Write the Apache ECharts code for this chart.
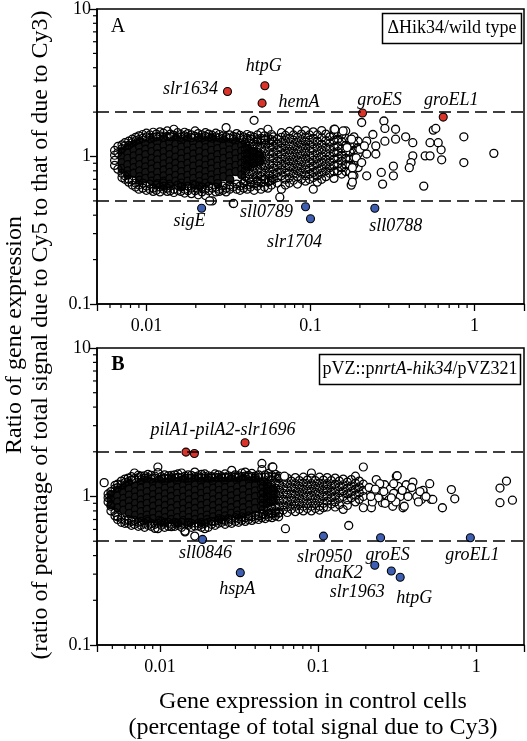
<!DOCTYPE html>
<html><head><meta charset="utf-8">
<script src="https://cdn.jsdelivr.net/npm/echarts@6/dist/echarts.min.js"></script>
<style>html,body{margin:0;padding:0;background:#fff}#c{width:527px;height:741px}</style>
</head><body><div id="c"></div>
<script>
// ---------------- data ----------------
const xTickVals = [0.01, 0.1, 1];
const xTickText = ['0.01', '0.1', '1'];
const yTickVals = [0.1, 1, 10];
const yTickText = ['0.1', '1', '10'];
const minorXA = [0.006,0.007,0.008,0.009,0.02,0.03,0.04,0.05,0.06,0.07,0.08,0.09,0.2,0.3,0.4,0.5,0.6,0.7,0.8,0.9];
const minorXB = [0.005,0.006,0.007,0.008,0.009,0.02,0.03,0.04,0.05,0.06,0.07,0.08,0.09,0.2,0.3,0.4,0.5,0.6,0.7,0.8,0.9];
const minorY = [0.2,0.3,0.4,0.5,0.6,0.7,0.8,0.9,2,3,4,5,6,7,8,9];
const thresholds = [2, 0.5];

// ===== Panel A =====
// dense core, [x, ratios...]
const coreA = [
[0.0071,[1.08,0.99,0.91,0.83]],
[0.0077,[1.15,1.06,0.97,0.88,0.80,0.75]],
[0.0084,[1.21,1.11,1.01,0.92,0.84,0.77]],
[0.0091,[1.26,1.16,1.06,0.97,0.88,0.80,0.73,0.69]],
[0.0099,[1.22,1.12,1.03,0.93,0.85,0.78,0.71]],
[0.0108,[1.29,1.17,1.08,0.97,0.89,0.82,0.74,0.68]],
[0.0117,[1.25,1.14,1.04,0.95,0.86,0.78,0.71,0.655]],
[0.0128,[1.31,1.19,1.08,0.98,0.89,0.81,0.74,0.68,0.63]],
[0.0139,[1.24,1.13,1.03,0.93,0.85,0.78,0.71,0.65]],
[0.0151,[1.33,1.21,1.10,0.99,0.90,0.82,0.745,0.68]],
[0.0164,[1.27,1.16,1.05,0.96,0.87,0.79,0.72,0.66,0.625]],
[0.0179,[1.32,1.20,1.09,0.99,0.90,0.82,0.745,0.68]],
[0.0194,[1.25,1.14,1.04,0.95,0.86,0.78,0.71,0.65]],
[0.0211,[1.31,1.19,1.08,0.98,0.89,0.81,0.74,0.675,0.63]],
[0.0230,[1.26,1.15,1.05,0.95,0.87,0.79,0.72,0.66]],
[0.0250,[1.33,1.21,1.10,0.99,0.90,0.82,0.75,0.69]],
[0.0272,[1.24,1.13,1.03,0.94,0.86,0.78,0.71,0.655]],
[0.0296,[1.29,1.18,1.07,0.97,0.88,0.80,0.73]],
[0.0322,[1.22,1.11,1.01,0.92,0.84,0.77,0.70]],
[0.0351,[1.26,1.15,1.05,0.96,0.87,0.79]],
[0.0381,[1.19,1.09,0.99,0.90,0.82,0.75]],
[0.0415,[1.13,1.03,0.94,0.86]],
[0.0452,[1.08,0.98,0.90]],
[0.0490,[1.02,0.93]]
];
// upper and lower fringe of the cloud, [x, ratios...]
const fringeA = [
[0.0064,[1.10,1.02,0.94,0.87]],[0.0067,[1.17,0.82,1.06]],[0.0071,[1.20,1.13,0.77,0.72]],[0.0074,[1.24,1.18,0.74,0.70]],
[0.0078,[1.19,1.27,0.70,0.67]],[0.0082,[1.31,1.24,0.69,0.64]],[0.0086,[1.28,1.35,0.66,0.62]],[0.0090,[1.38,1.30,0.64,0.60]],
[0.0095,[1.33,1.41,0.66,0.61]],[0.0100,[1.36,1.44,0.63,0.59]],[0.0105,[1.40,1.33,0.65,0.60]],[0.0110,[1.35,1.46,0.61,0.58]],
[0.0115,[1.42,1.36,0.64,0.59]],[0.0121,[1.38,1.47,0.62,0.575]],[0.0127,[1.44,1.35,0.66,0.60]],[0.0134,[1.37,1.49,0.61,0.58]],
[0.0140,[1.42,1.36,0.63,0.585]],[0.0147,[1.53,1.39,0.60,0.57]],[0.0155,[1.36,1.45,0.64,0.59]],[0.0162,[1.41,1.35,0.62,0.58]],
[0.0171,[1.46,1.38,0.60,0.565]],[0.0179,[1.36,1.43,0.63,0.585]],[0.0188,[1.40,1.34,0.61,0.56]],[0.0198,[1.49,1.37,0.64,0.585]],
[0.0207,[1.35,1.43,0.60,0.55]],[0.0218,[1.40,1.34,0.62,0.575]],[0.0229,[1.45,1.37,0.60,0.543]],[0.0240,[1.35,1.42,0.63,0.585]],
[0.0252,[1.39,1.33,0.61,0.50]],[0.0265,[1.44,1.36,0.62,0.575]],[0.0278,[1.34,1.41,0.60,0.58]],[0.0292,[1.38,1.32,0.63,0.59]],
[0.0306,[1.57,1.36,0.61,0.575]],[0.0322,[1.33,1.40,0.64,0.60]],[0.0338,[1.37,1.31,0.62,0.48]],[0.0355,[1.43,1.35,0.65,0.60]],
[0.0372,[1.33,1.39,0.63,0.59]],[0.0391,[1.36,1.30,0.66,0.61]],[0.0411,[1.41,1.33,0.64,0.60]],[0.0431,[1.31,1.38,0.67,0.62]],
[0.0453,[1.76,1.35,0.65,0.59]],[0.0475,[1.40,1.30,0.68,0.63]],[0.0499,[1.33,1.45,0.66,0.60]],[0.0524,[1.38,1.29,0.70,0.62]],
[0.0550,[1.53,1.34,0.67,0.61]],[0.0578,[1.30,1.41,0.69,0.64]]
];
// middle part of the cloud, [x, ratios...]
const midA = [
[0.0400,[1.24,1.13,1.04,0.95,0.87,0.80,0.73,0.68]],[0.0423,[1.28,1.18,1.08,0.99,0.91,0.83,0.76,0.70]],
[0.0448,[1.22,1.12,1.03,0.94,0.86,0.79,0.72]],[0.0474,[1.27,1.17,1.07,0.98,0.90,0.82,0.75,0.69]],
[0.0501,[1.23,1.13,1.03,0.95,0.87,0.79,0.73]],[0.0530,[1.30,1.19,1.09,1.00,0.91,0.84,0.77,0.70]],
[0.0561,[1.24,1.14,1.04,0.96,0.88,0.80,0.74,0.68]],[0.0594,[1.36,1.27,1.17,1.07,0.98,0.90,0.83,0.76,0.70]],
[0.0628,[1.31,1.21,1.11,1.02,0.93,0.86,0.78,0.72,0.66]],[0.0665,[1.45,1.35,1.24,1.14,1.04,0.96,0.88,0.81,0.74,0.60]],
[0.0703,[1.39,1.28,1.18,1.08,0.99,0.91,0.84,0.77,0.70,0.64]],[0.0744,[1.48,1.33,1.22,1.12,1.03,0.94,0.86,0.79,0.72,0.66]],
[0.0787,[1.40,1.29,1.18,1.08,0.99,0.91,0.83,0.76,0.69]],[0.0833,[1.51,1.35,1.24,1.13,1.04,0.95,0.87,0.80,0.73,0.65]],
[0.0881,[1.42,1.30,1.19,1.09,1.00,0.92,0.84,0.77,0.70]],[0.0932,[1.50,1.36,1.25,1.14,1.05,0.96,0.88,0.81,0.74,0.68]],
[0.0986,[1.40,1.29,1.19,1.09,1.00,0.91,0.83,0.76,0.70]],[0.104,[1.47,1.33,1.22,1.12,1.02,0.94,0.86,0.78,0.72,0.60]],
[0.110,[1.40,1.27,1.16,1.06,0.97,0.89,0.81,0.74,0.67]],[0.117,[1.50,1.34,1.21,1.11,1.01,0.92,0.84,0.77,0.70]],
[0.124,[1.42,1.28,1.16,1.06,0.96,0.88,0.80,0.73]],[0.131,[1.36,1.23,1.12,1.01,0.92,0.84,0.77]],
[0.139,[1.53,1.40,1.28,1.16,1.06,0.96,0.87,0.79,0.71]],[0.147,[1.45,1.31,1.18,1.08,0.98,0.89,0.80]],
[0.155,[1.40,1.26,1.13,1.02,0.93,0.84,0.76]],[0.164,[1.49,1.33,1.19,1.07,0.97,0.88,0.79]],
[0.174,[1.29,1.18,1.07,0.96,0.87,0.78]],[0.184,[1.36,1.22,1.10,0.99,0.88,0.74]],
[0.195,[1.27,1.15,1.04,0.93,0.84]]
];
// isolated genes, [x, ratio]
const farA = [[0.205,1.70],[0.28,1.74],[0.284,1.55],[0.33,1.53],[0.56,1.51],[0.58,1.55],[0.86,1.36],[1.31,1.05],[0.86,0.91],[0.625,1.11],[0.63,0.95],[0.60,1.24],[0.535,1.24],[0.50,1.01],[0.535,1.01],[0.42,1.24],[0.42,1.01],[0.41,0.91],[0.40,0.84],[0.38,1.36],[0.33,1.31],[0.284,1.27],[0.32,0.86],[0.32,0.74],[0.27,0.78],[0.275,0.65],[0.25,1.18],[0.25,1.04],[0.22,1.04],[0.22,1.27],[0.24,1.41],[0.49,0.63],[0.22,0.74],[0.18,0.74],[0.177,0.64],[0.19,0.98],[0.20,1.12],[0.213,1.18],[0.205,0.91],[0.178,1.31],[0.167,1.15],[0.18,0.84],[0.18,0.67],[0.158,1.49],[0.1405,1.53],[0.0650,0.53],[0.0243,0.50],[0.0340,0.48]];
const redA = [['slr1634',0.0312,2.76],['htpG',0.0527,3.02],['hemA',0.0507,2.30],['groES',0.2075,1.97],['groEL1',0.644,1.85]];
const blueA = [['sigE',0.0217,0.446],['sll0789',0.0933,0.456],['slr1704',0.100,0.378],['sll0788',0.2466,0.446]];

// ===== Panel B =====
const coreB = [
[0.0049,[1.03,0.95,0.88]],
[0.0054,[1.10,1.01,0.92,0.84]],
[0.0059,[1.16,1.06,0.97,0.89,0.81]],
[0.0064,[1.22,1.12,1.02,0.93,0.85,0.77]],
[0.0070,[1.18,1.08,0.99,0.90,0.82,0.75]],
[0.0076,[1.25,1.14,1.04,0.95,0.87,0.79,0.72]],
[0.0083,[1.29,1.18,1.08,0.98,0.90,0.82,0.75,0.70]],
[0.0091,[1.24,1.13,1.03,0.94,0.86,0.78,0.71]],
[0.0099,[1.30,1.19,1.08,0.99,0.90,0.82,0.75,0.69]],
[0.0108,[1.25,1.14,1.04,0.95,0.87,0.79,0.72,0.67]],
[0.0118,[1.31,1.20,1.09,1.00,0.91,0.83,0.76,0.70]],
[0.0129,[1.26,1.15,1.05,0.955,0.87,0.79,0.72,0.66]],
[0.0141,[1.30,1.19,1.09,0.99,0.90,0.82,0.75,0.69]],
[0.0153,[1.25,1.14,1.04,0.95,0.86,0.79,0.72,0.665]],
[0.0167,[1.31,1.20,1.10,1.00,0.91,0.83,0.76,0.70]],
[0.0183,[1.26,1.15,1.05,0.955,0.87,0.79,0.72,0.67]],
[0.0199,[1.30,1.19,1.09,0.99,0.90,0.82,0.75,0.70]],
[0.0218,[1.25,1.14,1.04,0.95,0.87,0.79,0.73]],
[0.0237,[1.31,1.20,1.10,1.00,0.91,0.83,0.76,0.71]],
[0.0259,[1.26,1.15,1.05,0.96,0.87,0.80,0.74]],
[0.0283,[1.31,1.20,1.10,1.01,0.92,0.84,0.77]],
[0.0309,[1.27,1.16,1.06,0.96,0.88,0.80,0.75]],
[0.0337,[1.32,1.21,1.11,1.01,0.92,0.84,0.77]],
[0.0368,[1.27,1.17,1.06,0.97,0.88,0.80]],
[0.0401,[1.30,1.19,1.09,1.00,0.91,0.83]],
[0.0438,[1.24,1.13,1.03,0.94,0.86]],
[0.0478,[1.18,1.08,0.99,0.90]],
[0.0521,[1.12,1.02,0.94]]
];
const fringeB = [
[0.0047,[0.98,0.92,1.04]],[0.0049,[1.08,0.86,0.80]],[0.0052,[1.13,1.19,0.78,0.74]],[0.0054,[1.21,1.15,0.73,0.70]],
[0.0057,[1.27,1.20,0.71,0.67]],[0.0060,[1.24,1.31,0.69,0.66]],[0.0063,[1.33,1.26,0.66,0.70]],[0.0066,[1.29,1.36,0.68,0.64]],
[0.0069,[1.44,1.32,0.65,0.69]],[0.0073,[1.34,1.39,0.67,0.63]],[0.0076,[1.30,1.37,0.64,0.68]],[0.0080,[1.38,1.33,0.66,0.62]],
[0.0084,[1.34,1.41,0.68,0.64]],[0.0088,[1.39,1.31,0.63,0.66]],[0.0093,[1.33,1.37,0.65,0.61]],[0.0097,[1.58,1.45,0.607,0.66]],
[0.0102,[1.36,1.31,0.64,0.68]],[0.0107,[1.33,1.40,0.66,0.62]],[0.0113,[1.38,1.32,0.63,0.67]],[0.0118,[1.34,1.39,0.65,0.626]],
[0.0124,[1.40,1.33,0.67,0.63]],[0.0130,[1.35,1.42,0.64,0.66]],[0.0137,[1.44,1.34,0.62,0.67]],[0.0144,[1.37,1.32,0.577,0.585]],
[0.0151,[1.33,1.40,0.64,0.67]],[0.0158,[1.39,1.33,0.66,0.62]],[0.0166,[1.46,1.36,0.541,0.632]],[0.0175,[1.34,1.38,0.632,0.66]],
[0.0183,[1.41,1.33,0.65,0.62]],[0.0192,[1.36,1.42,0.607,0.66]],[0.0202,[1.38,1.33,0.62,0.67]],[0.0212,[1.33,1.36,0.65,0.68]],
[0.0223,[1.42,1.35,0.64,0.68]],[0.0234,[1.40,1.34,0.66,0.69]],[0.0246,[1.36,1.33,0.67,0.70]],[0.0258,[1.42,1.35,0.65,0.69]],
[0.0271,[1.38,1.34,0.67,0.71]],[0.0284,[1.50,1.36,0.66,0.70]],[0.0299,[1.40,1.35,0.68,0.72]],[0.0314,[1.38,1.34,0.67,0.71]],
[0.0329,[1.44,1.36,0.69,0.73]],[0.0346,[1.46,1.37,0.68,0.72]],[0.0363,[1.39,1.35,0.70,0.74]],[0.0381,[1.43,1.36,0.69,0.73]],
[0.0400,[1.37,1.33,0.71,0.75]],[0.0420,[1.40,1.34,0.70,0.74]],[0.0441,[1.67,1.52,0.72,0.76]],[0.0463,[1.40,1.35,0.71,0.75]],
[0.0486,[1.43,1.36,0.73,0.77]],[0.0511,[1.58,1.38,0.72,0.76]],[0.0536,[1.41,1.35,0.74,0.78]],[0.0563,[1.37,1.33,0.73,0.77]]
];
const midB = [
[0.0450,[1.27,1.17,1.07,0.98,0.90,0.82,0.76]],[0.0477,[1.22,1.12,1.03,0.94,0.86,0.79]],
[0.0506,[1.30,1.19,1.09,1.00,0.92,0.84,0.77]],[0.0536,[1.24,1.14,1.04,0.95,0.87,0.80]],
[0.0568,[1.32,1.20,1.10,1.01,0.93,0.85,0.78]],[0.0602,[1.26,1.15,1.05,0.96,0.88,0.81]],
[0.0638,[1.33,1.22,1.11,1.02,0.93,0.85,0.78]],[0.0677,[1.27,1.16,1.06,0.97,0.89,0.82]],
[0.0717,[1.34,1.22,1.12,1.02,0.93,0.86,0.79]],[0.0760,[1.28,1.17,1.07,0.98,0.90,0.82]],
[0.0806,[1.35,1.23,1.12,1.03,0.94,0.86,0.80]],[0.0854,[1.29,1.18,1.08,0.99,0.90,0.83]],
[0.0906,[1.44,1.33,1.22,1.12,1.02,0.94,0.86,0.80]],[0.0960,[1.28,1.17,1.07,0.98,0.90,0.83]],
[0.102,[1.35,1.23,1.13,1.03,0.94,0.86,0.81]],[0.108,[1.29,1.18,1.08,0.99,0.90,0.84]],
[0.114,[1.34,1.22,1.12,1.02,0.93,0.85]],[0.121,[1.28,1.17,1.07,0.98,0.89]],
[0.128,[1.33,1.21,1.11,1.01,0.92,0.85]],[0.136,[1.27,1.16,1.06,0.97,0.88]],
[0.144,[1.31,1.20,1.09,1.00,0.818]],[0.153,[1.25,1.14,1.04,0.95,0.87]],
[0.162,[1.30,1.18,1.08,0.98]],[0.172,[1.37,1.23,1.12,1.02,0.92]],
[0.182,[1.27,1.16,1.06,0.955]],[0.193,[1.58,1.21,1.10,1.00,0.84]]
];
const farB = [[0.00444,1.24],[0.0621,0.607],[0.156,0.638],[0.0612,1.37],[0.0517,1.58],[0.233,1.30],[0.217,0.84],[0.255,0.908],[0.263,1.20],[0.296,0.86],[0.312,1.37],[0.32,1.17],[0.344,0.84],[0.36,1.20],[0.36,1.06],[0.397,1.25],[0.397,1.06],[0.459,1.085],[0.507,1.22],[0.519,0.955],[0.35,0.86],[0.40,1.06],[0.46,1.10],[0.449,0.955],[0.53,0.955],[0.316,1.38],[0.695,1.114],[0.73,0.965],[0.61,0.84],[1.41,1.14],[1.55,1.27],[1.41,0.908],[1.69,0.944],[0.21,1.15],[0.225,1.05],[0.24,0.98],[0.22,0.92],[0.25,1.10],[0.27,1.02],[0.28,0.95],[0.245,1.22],[0.285,1.12],[0.30,1.05],[0.265,0.90],[0.23,1.12],[0.215,1.00],[0.26,1.08],[0.33,1.00],[0.31,0.92],[0.34,1.10],[0.29,0.98],[0.37,1.00],[0.42,1.00],[0.44,1.08],[0.39,1.15],[0.43,0.92],[0.48,1.00],[0.30,1.22]];
const redB = [['',0.0146,1.99],['',0.0165,1.95],['pilA1-pilA2-slr1696',0.0345,2.30]];
const blueB = [['sll0846',0.0186,0.514],['hspA',0.0322,0.307],['slr0950',0.108,0.541],['groES',0.248,0.527],['groEL1',0.916,0.527],['dnaK2',0.228,0.344],['slr1963',0.290,0.315],['htpG',0.330,0.286]];

// ---------------- styles / layout ----------------
const FONT = '"Liberation Serif","DejaVu Serif",serif';
const RED = '#da3329', BLUE = '#3e5fb1';
const labelOffA = {slr1634:[-37,-2], htpG:[-1,-19], hemA:[37,-1], groES:[17,-13], groEL1:[8,-17], sigE:[-12,13], sll0789:[-39,5], slr1704:[-16,23], sll0788:[21,18]};
const labelOffB = {'pilA1-pilA2-slr1696':[-22,-13], sll0846:[3,14], hspA:[-3,17], slr0950:[1,21], groES:[7,17], groEL1:[2,17], dnaK2:[-36,8], slr1963:[-34,21], htpG:[14,21]};

function fmt(vals, texts) {
  return function (v) {
    for (let i = 0; i < vals.length; i++) if (Math.abs(v / vals[i] - 1) < 1e-6) return texts[i];
    return '';
  };
}
function flatCols(cols) { const out = []; cols.forEach(([x, ys]) => ys.forEach(y => out.push([x, y]))); return out; }

function xAx(gi, min) {
  return {type:'log', gridIndex:gi, min:min, max:2, logBase:10,
    axisLine:{show:true, lineStyle:{color:'#000', width:1.5}},
    axisTick:{show:true, inside:false, length:7, lineStyle:{color:'#000', width:1.3}},
    minorTick:{show:false}, splitLine:{show:false},
    axisLabel:{formatter:fmt(xTickVals, xTickText), fontSize:18, fontFamily:FONT, color:'#000', margin:13}};
}
function yAx(gi) {
  return {type:'log', gridIndex:gi, min:0.1, max:10, logBase:10,
    axisLine:{show:true, lineStyle:{color:'#000', width:1.5}},
    axisTick:{show:true, inside:false, length:7, lineStyle:{color:'#000', width:1.3}},
    splitLine:{show:false},
    axisLabel:{formatter:fmt(yTickVals, yTickText), fontSize:18, fontFamily:FONT, color:'#000', margin:6}};
}
function minorTicks(gi, xs, xmin) {
  const data = xs.map(v => [v, 0.1, 0]).concat(minorY.map(v => [xmin, v, 1]));
  return {type:'custom', xAxisIndex:gi, yAxisIndex:gi, clip:false, silent:true, z:5, data:data,
    renderItem:function (p, api) {
      const c = api.coord([api.value(0), api.value(1)]);
      const vert = api.value(2) === 0;
      return {type:'line', shape: vert ? {x1:c[0], y1:c[1], x2:c[0], y2:c[1] + 4} : {x1:c[0], y1:c[1], x2:c[0] - 4, y2:c[1]},
        style:{stroke:'#000', lineWidth:1.2}};
    }};
}
function marked(list, color, offs, gi) {
  return {type:'scatter', xAxisIndex:gi, yAxisIndex:gi, symbolSize:8, z:4,
    itemStyle:{color:color, borderColor:'#000', borderWidth:1.1, opacity:1},
    label:{show:true, position:'inside', formatter:'{b}', fontStyle:'italic', fontSize:18, fontFamily:FONT, color:'#000'},
    data:list.map(([n, x, y]) => ({name:n, value:[x, y], label:{show:!!n, offset:offs[n] || [0, 0]}}))};
}
function panel(gi, core, cloud, far, red, blue, offs) {
  return [
    {type:'scatter', xAxisIndex:gi, yAxisIndex:gi, symbolSize:8, silent:true, z:2,
      itemStyle:{color:'#151515', borderColor:'#000', borderWidth:1.3, opacity:1}, data:flatCols(core)},
    {type:'scatter', xAxisIndex:gi, yAxisIndex:gi, symbolSize:8, silent:true, z:3,
      itemStyle:{color:'rgba(255,255,255,0)', borderColor:'#000', borderWidth:1.2, opacity:1}, data:cloud,
      markLine:{silent:true, symbol:['none','none'], label:{show:false}, animation:false,
        lineStyle:{color:'#000', type:[12,6], width:1.5}, data:thresholds.map(v => ({yAxis:v}))}},
    {type:'scatter', xAxisIndex:gi, yAxisIndex:gi, symbolSize:8, silent:true, z:3,
      itemStyle:{color:'#fff', borderColor:'#000', borderWidth:1.3, opacity:1}, data:far},
    marked(red, RED, offs, gi),
    marked(blue, BLUE, offs, gi)
  ];
}

const chart = echarts.init(document.getElementById('c'), null, {renderer:'canvas'});
const cloudA = flatCols(fringeA).concat(flatCols(midA));
const cloudB = flatCols(fringeB).concat(flatCols(midB));
chart.setOption({
  animation:false,
  backgroundColor:'#fff',
  grid:[
    {left:97, right:3, top:7, height:297, show:true, borderColor:'#000', borderWidth:1.5, backgroundColor:'transparent'},
    {left:97, right:3, top:348, height:297, show:true, borderColor:'#000', borderWidth:1.5, backgroundColor:'transparent'}
  ],
  xAxis:[xAx(0, 0.005), xAx(1, 0.004)],
  yAxis:[yAx(0), yAx(1)],
  series:[].concat(panel(0, coreA, cloudA, farA, redA, blueA, labelOffA), panel(1, coreB, cloudB, farB, redB, blueB, labelOffB),
    [minorTicks(0, minorXA, 0.005), minorTicks(1, minorXB, 0.004)]),
  graphic:[
    {type:'text', x:118, y:27, style:{text:'A', fontSize:20, fontFamily:FONT, fill:'#000', align:'center', verticalAlign:'middle'}},
    {type:'text', x:118, y:365, style:{text:'B', fontSize:20, fontWeight:'bold', fontFamily:FONT, fill:'#000', align:'center', verticalAlign:'middle'}},
    {type:'rect', shape:{x:382.5, y:13.5, width:139, height:30}, style:{fill:'#fff', stroke:'#000', lineWidth:1.5}, z:10},
    {type:'text', x:452, y:28.5, z:11, style:{text:'ΔHik34/wild type', fontSize:18, fontFamily:FONT, fill:'#000', align:'center', verticalAlign:'middle'}},
    {type:'rect', shape:{x:319.5, y:354.5, width:201, height:30}, style:{fill:'#fff', stroke:'#000', lineWidth:1.5}, z:10},
    {type:'text', x:420, y:369.5, z:11, style:{text:'{n|pVZ::p}{i|nrtA-hik34}{n|/pVZ321}', align:'center', verticalAlign:'middle',
      rich:{n:{fontSize:18, fontFamily:FONT, fill:'#000'}, i:{fontSize:18, fontFamily:FONT, fontStyle:'italic', fill:'#000'}}}},
    {type:'text', x:313, y:702, style:{text:'Gene expression in control cells', fontSize:24, fontFamily:FONT, fill:'#000', align:'center', verticalAlign:'middle'}},
    {type:'text', x:313, y:728, style:{text:'(percentage of total signal due to Cy3)', fontSize:24, fontFamily:FONT, fill:'#000', align:'center', verticalAlign:'middle'}},
    {type:'text', x:15, y:335, rotation:Math.PI/2, style:{text:'Ratio of gene expression', fontSize:24, fontFamily:FONT, fill:'#000', align:'center', verticalAlign:'middle'}},
    {type:'text', x:40.5, y:335, rotation:Math.PI/2, style:{text:'(ratio of percentage of total signal due to Cy5 to that of due to Cy3)', fontSize:24, fontFamily:FONT, fill:'#000', align:'center', verticalAlign:'middle'}}
  ]
});
</script></body></html>
